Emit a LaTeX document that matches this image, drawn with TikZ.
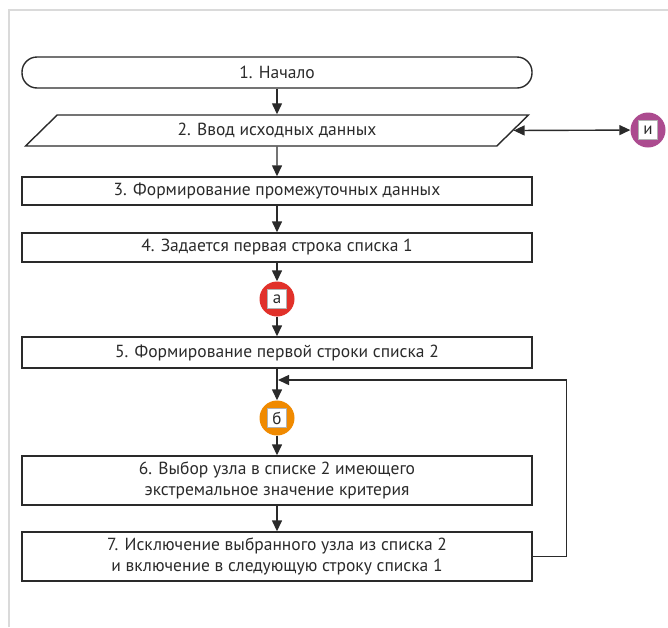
\documentclass[tikz,border=0pt]{standalone}
\usepackage{fontspec}
\setmainfont{PT Sans}
\usetikzlibrary{arrows.meta,shapes.geometric,calc}
\definecolor{bordergray}{HTML}{DADADA}
\definecolor{txt}{HTML}{2A2A2A}
\definecolor{cred}{HTML}{E1312A}
\definecolor{corange}{HTML}{F08A00}
\definecolor{cmag}{HTML}{AC4B8F}
\tikzset{
  box/.style={draw=txt, line width=1.4pt, minimum width=510pt, inner sep=2pt, align=center, text=txt, font=\fontsize{17.5}{21}\selectfont},
  term/.style={box, rounded corners=15pt, minimum height=31pt},
  io/.style={draw=txt, line width=1.4pt, trapezium, trapezium left angle=52, trapezium right angle=128, trapezium stretches=true, minimum width=504pt, minimum height=31pt, inner sep=2pt, text=txt, font=\fontsize{17.5}{21}\selectfont},
  conn/.style={circle, minimum size=35pt, inner sep=0pt, draw=none},
  lbl/.style={fill=white, draw=gray!60, line width=0.4pt, minimum size=19pt, inner sep=0pt, text=txt, font=\fontsize{17}{18}\selectfont},
  arr/.style={draw=txt, line width=1.4pt, -{Triangle[length=11pt,width=10pt]}},
  darr/.style={draw=txt, line width=1.4pt, {Triangle[length=11pt,width=10pt]}-{Triangle[length=11pt,width=10pt]}},
  line/.style={draw=txt, line width=1.4pt}
}
\begin{document}
\begin{tikzpicture}[x=1pt,y=-1pt]
\useasboundingbox (0,0) rectangle (668,627);
\draw[bordergray, line width=1.5pt] (9,627) -- (9,10) -- (668,10);
\node[term] (n1) at (277,72.5) {1. Начало};
\node[io] (n2) at (277,130.5) {2. Ввод исходных данных};
\node[box, minimum height=28pt] (n3) at (277,191) {3. Формирование промежуточных данных};
\node[box, minimum height=29pt] (n4) at (277,247.5) {4. Задается первая строка списка 1};
\node[conn, fill=cred] (ca) at (277,299) {};
\node[lbl] at (ca) {а};
\node[box, minimum height=31pt] (n5) at (277,352.5) {5. Формирование первой строки списка 2};
\node[conn, fill=corange] (cb) at (277,418) {};
\node[lbl] at (cb) {б};
\node[box, minimum height=49pt] (n6) at (277,480.5) {6. Выбор узла в списке 2 имеющего\\экстремальное значение критерия};
\node[box, minimum height=49pt] (n7) at (277,556.5) {7. Исключение выбранного узла из списка 2\\и включение в следующую строку списка 1};
\node[conn, fill=cmag] (ci) at (648,130) {};
\node[lbl] at (ci) {и};
\coordinate (io) at ($(n2.top right corner)!0.5!(n2.bottom right corner)$);
\coordinate (j) at (278,380);
\draw[arr] (n1) -- (n2);
\draw[darr] (io) -- (ci);
\draw[arr] (n2) -- (n3);
\draw[arr] (n3) -- (n4);
\draw[arr] (n4) -- (ca);
\draw[arr] (ca) -- (n5);
\draw[arr] (n5) -- (cb);
\draw[arr] (cb) -- (n6);
\draw[arr] (n6) -- (n7);
\draw[arr] (n7.east) -- ++(34,0) |- (j);
\end{tikzpicture}
\end{document}
